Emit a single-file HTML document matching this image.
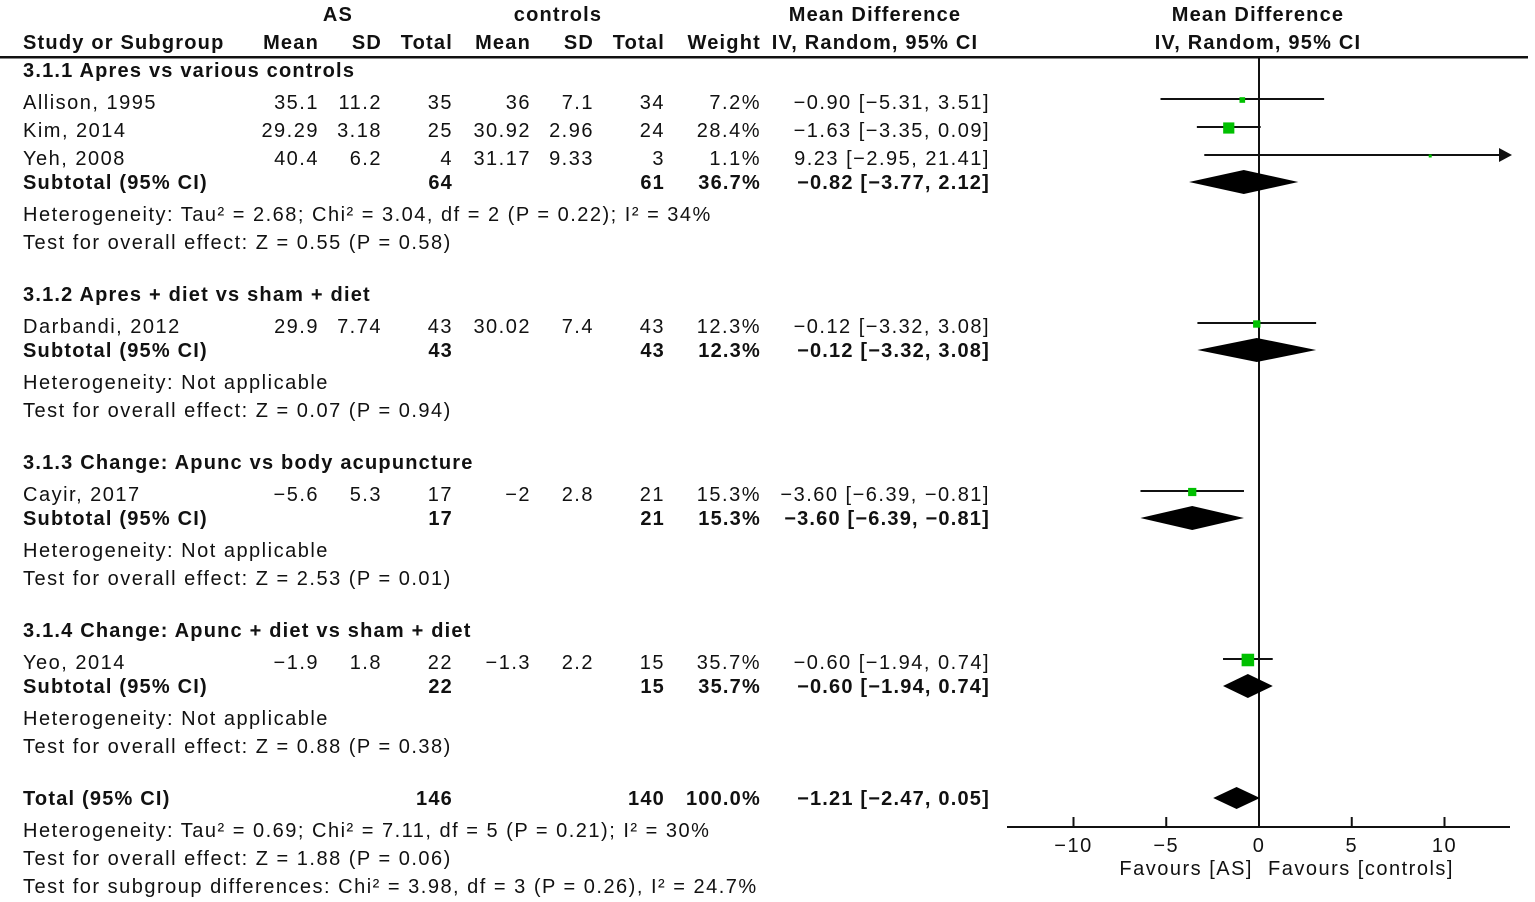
<!DOCTYPE html>
<html><head><meta charset="utf-8"><style>
html,body{margin:0;padding:0;background:#fff;}
svg{display:block;font-family:"Liberation Sans","DejaVu Sans",sans-serif;font-size:20px;letter-spacing:1.5px;}
text{fill:#111;}
.b{font-weight:bold;letter-spacing:1.2px;}
</style></head><body>
<svg id="chart" width="1535" height="902" viewBox="0 0 1535 902">
<g id="tbl"></g>
<g id="plot"></g>
</svg>
<script>
const studies=["Allison, 1995","Kim, 2014","Yeh, 2008","Darbandi, 2012","Cayir, 2017","Yeo, 2014"];
const studyY=[102,130,158,326,494,662];
const studyMD=[-0.90,-1.63,9.23,-0.12,-3.60,-0.60];
const studyLo=[-5.31,-3.35,-2.95,-3.32,-6.39,-1.94];
const studyHi=[3.51,0.09,21.41,3.08,-0.81,0.74];
const studyW=[7.2,28.4,1.1,12.3,15.3,35.7];
const studyRows=[
["35.1","11.2","35","36","7.1","34","7.2%","−0.90 [−5.31, 3.51]"],
["29.29","3.18","25","30.92","2.96","24","28.4%","−1.63 [−3.35, 0.09]"],
["40.4","6.2","4","31.17","9.33","3","1.1%","9.23 [−2.95, 21.41]"],
["29.9","7.74","43","30.02","7.4","43","12.3%","−0.12 [−3.32, 3.08]"],
["−5.6","5.3","17","−2","2.8","21","15.3%","−3.60 [−6.39, −0.81]"],
["−1.9","1.8","22","−1.3","2.2","15","35.7%","−0.60 [−1.94, 0.74]"]];
const subLabels=["Subtotal (95% CI)","Subtotal (95% CI)","Subtotal (95% CI)","Subtotal (95% CI)","Total (95% CI)"];
const subY=[182,350,518,686,798];
const subMD=[-0.82,-0.12,-3.60,-0.60,-1.21];
const subLo=[-3.77,-3.32,-6.39,-1.94,-2.47];
const subHi=[2.12,3.08,-0.81,0.74,0.05];
const subRows=[["64","61","36.7%","−0.82 [−3.77, 2.12]"],["43","43","12.3%","−0.12 [−3.32, 3.08]"],["17","21","15.3%","−3.60 [−6.39, −0.81]"],["22","15","35.7%","−0.60 [−1.94, 0.74]"],["146","140","100.0%","−1.21 [−2.47, 0.05]"]];
const groups=[["3.1.1 Apres vs various controls",70],["3.1.2 Apres + diet vs sham + diet",294],["3.1.3 Change: Apunc vs body acupuncture",462],["3.1.4 Change: Apunc + diet vs sham + diet",630]];
const notes=[["Heterogeneity: Tau² = 2.68; Chi² = 3.04, df = 2 (P = 0.22); I² = 34%",214],["Test for overall effect: Z = 0.55 (P = 0.58)",242],["Heterogeneity: Not applicable",382],["Test for overall effect: Z = 0.07 (P = 0.94)",410],["Heterogeneity: Not applicable",550],["Test for overall effect: Z = 2.53 (P = 0.01)",578],["Heterogeneity: Not applicable",718],["Test for overall effect: Z = 0.88 (P = 0.38)",746],["Heterogeneity: Tau² = 0.69; Chi² = 7.11, df = 5 (P = 0.21); I² = 30%",830],["Test for overall effect: Z = 1.88 (P = 0.06)",858],["Test for subgroup differences: Chi² = 3.98, df = 3 (P = 0.26), I² = 24.7%",886]];
const ticks=[-10,-5,0,5,10];
const tickLabels=["−10","−5","0","5","10"];

const NS="http://www.w3.org/2000/svg";
const tbl=document.getElementById('tbl'),plot=document.getElementById('plot');
function mk(p,tag,at){const e=document.createElementNS(NS,tag);for(const k in at)e.setAttribute(k,at[k]);p.appendChild(e);return e;}
function txt(p,x,y,s,anchor,bold,name){const t=mk(p,'text',{x:x,y:y+7,'text-anchor':anchor||'start'});if(bold)t.setAttribute('class','b');t.textContent=s;


return t;}
const colX=[319,382,453,531,594,665,761,990];
const x0=1259,ppu=18.55;
function X(v){return x0+v*ppu;}

txt(tbl,338,14,"AS","middle",true,'header-as');
txt(tbl,558,14,"controls","middle",true,'header-controls');
txt(tbl,875,14,"Mean Difference","middle",true,'header-md');
txt(tbl,1258,14,"Mean Difference","middle",true,'header-md-plot');
txt(tbl,23,42,"Study or Subgroup","start",true,'header-study');
["Mean","SD","Total","Mean","SD","Total","Weight"].forEach((h,i)=>txt(tbl,colX[i],42,h,"end",true,'header-col'));
txt(tbl,875,42,"IV, Random, 95% CI","middle",true,'header-ci');
txt(tbl,1258,42,"IV, Random, 95% CI","middle",true,'header-ci-plot');
const hl=mk(tbl,'rect',{x:0,y:56,width:1528,height:2.5,fill:'#111'});



groups.forEach(g=>txt(tbl,23,g[1],g[0],'start',true,'group-title'));
notes.forEach(n=>txt(tbl,23,n[1],n[0],'start',false,'note'));
studies.forEach((s,i)=>{txt(tbl,23,studyY[i],s,'start',false,'study-name');
 studyRows[i].forEach((v,j)=>txt(tbl,colX[j],studyY[i],v,'end',false,'study-value'));});
subLabels.forEach((s,i)=>{txt(tbl,23,subY[i],s,'start',true,'subtotal-label');
 const r=subRows[i];[[2,r[0]],[5,r[1]],[6,r[2]],[7,r[3]]].forEach(p=>txt(tbl,colX[p[0]],subY[i],p[1],'end',true,'subtotal-value'));});

const zl=mk(plot,'line',{x1:X(0),y1:58,x2:X(0),y2:827,stroke:'#111','stroke-width':2});


const ax=mk(plot,'line',{x1:1007,y1:827,x2:1510,y2:827,stroke:'#111','stroke-width':2});


ticks.forEach((t,i)=>{const l=mk(plot,'line',{x1:X(t),y1:817,x2:X(t),y2:827,stroke:'#111','stroke-width':2});


txt(plot,X(t),845,tickLabels[i],'middle',false,'x-tick-label');});
txt(plot,1253,868,"Favours [AS]",'end',false,'favours-as');
txt(plot,1268,868,"Favours [controls]",'start',false,'favours-controls');
const xRight=1503;
studies.forEach((s,i)=>{const y=studyY[i]-3;
 let x1=Math.max(X(studyLo[i]),1007),x2=X(studyHi[i]);let arrow=false;if(x2>xRight){x2=xRight;arrow=true;}
 const l=mk(plot,'line',{x1:x1,y1:y,x2:x2,y2:y,stroke:'#111','stroke-width':2});
 
 
 if(arrow){const a=mk(plot,'polygon',{points:`${x2-4},${y-7} ${x2+9},${y} ${x2-4},${y+7}`,fill:'#111'});
 
 }
 const sz=Math.max(3,Math.sqrt(studyW[i])*2.1);
 const r=mk(plot,'rect',{x:X(studyMD[i])-sz/2,y:y+1-sz/2,width:sz,height:sz,fill:'#00c000'});
 
 });
subY.forEach((y,i)=>{const h=subLabels[i].startsWith('Total')?11:12;
 const p=mk(plot,'polygon',{points:`${X(subLo[i])},${y} ${X(subMD[i])},${y-h} ${X(subHi[i])},${y} ${X(subMD[i])},${y+h}`,fill:'#000'});
 
 });
</script>
</body></html>
